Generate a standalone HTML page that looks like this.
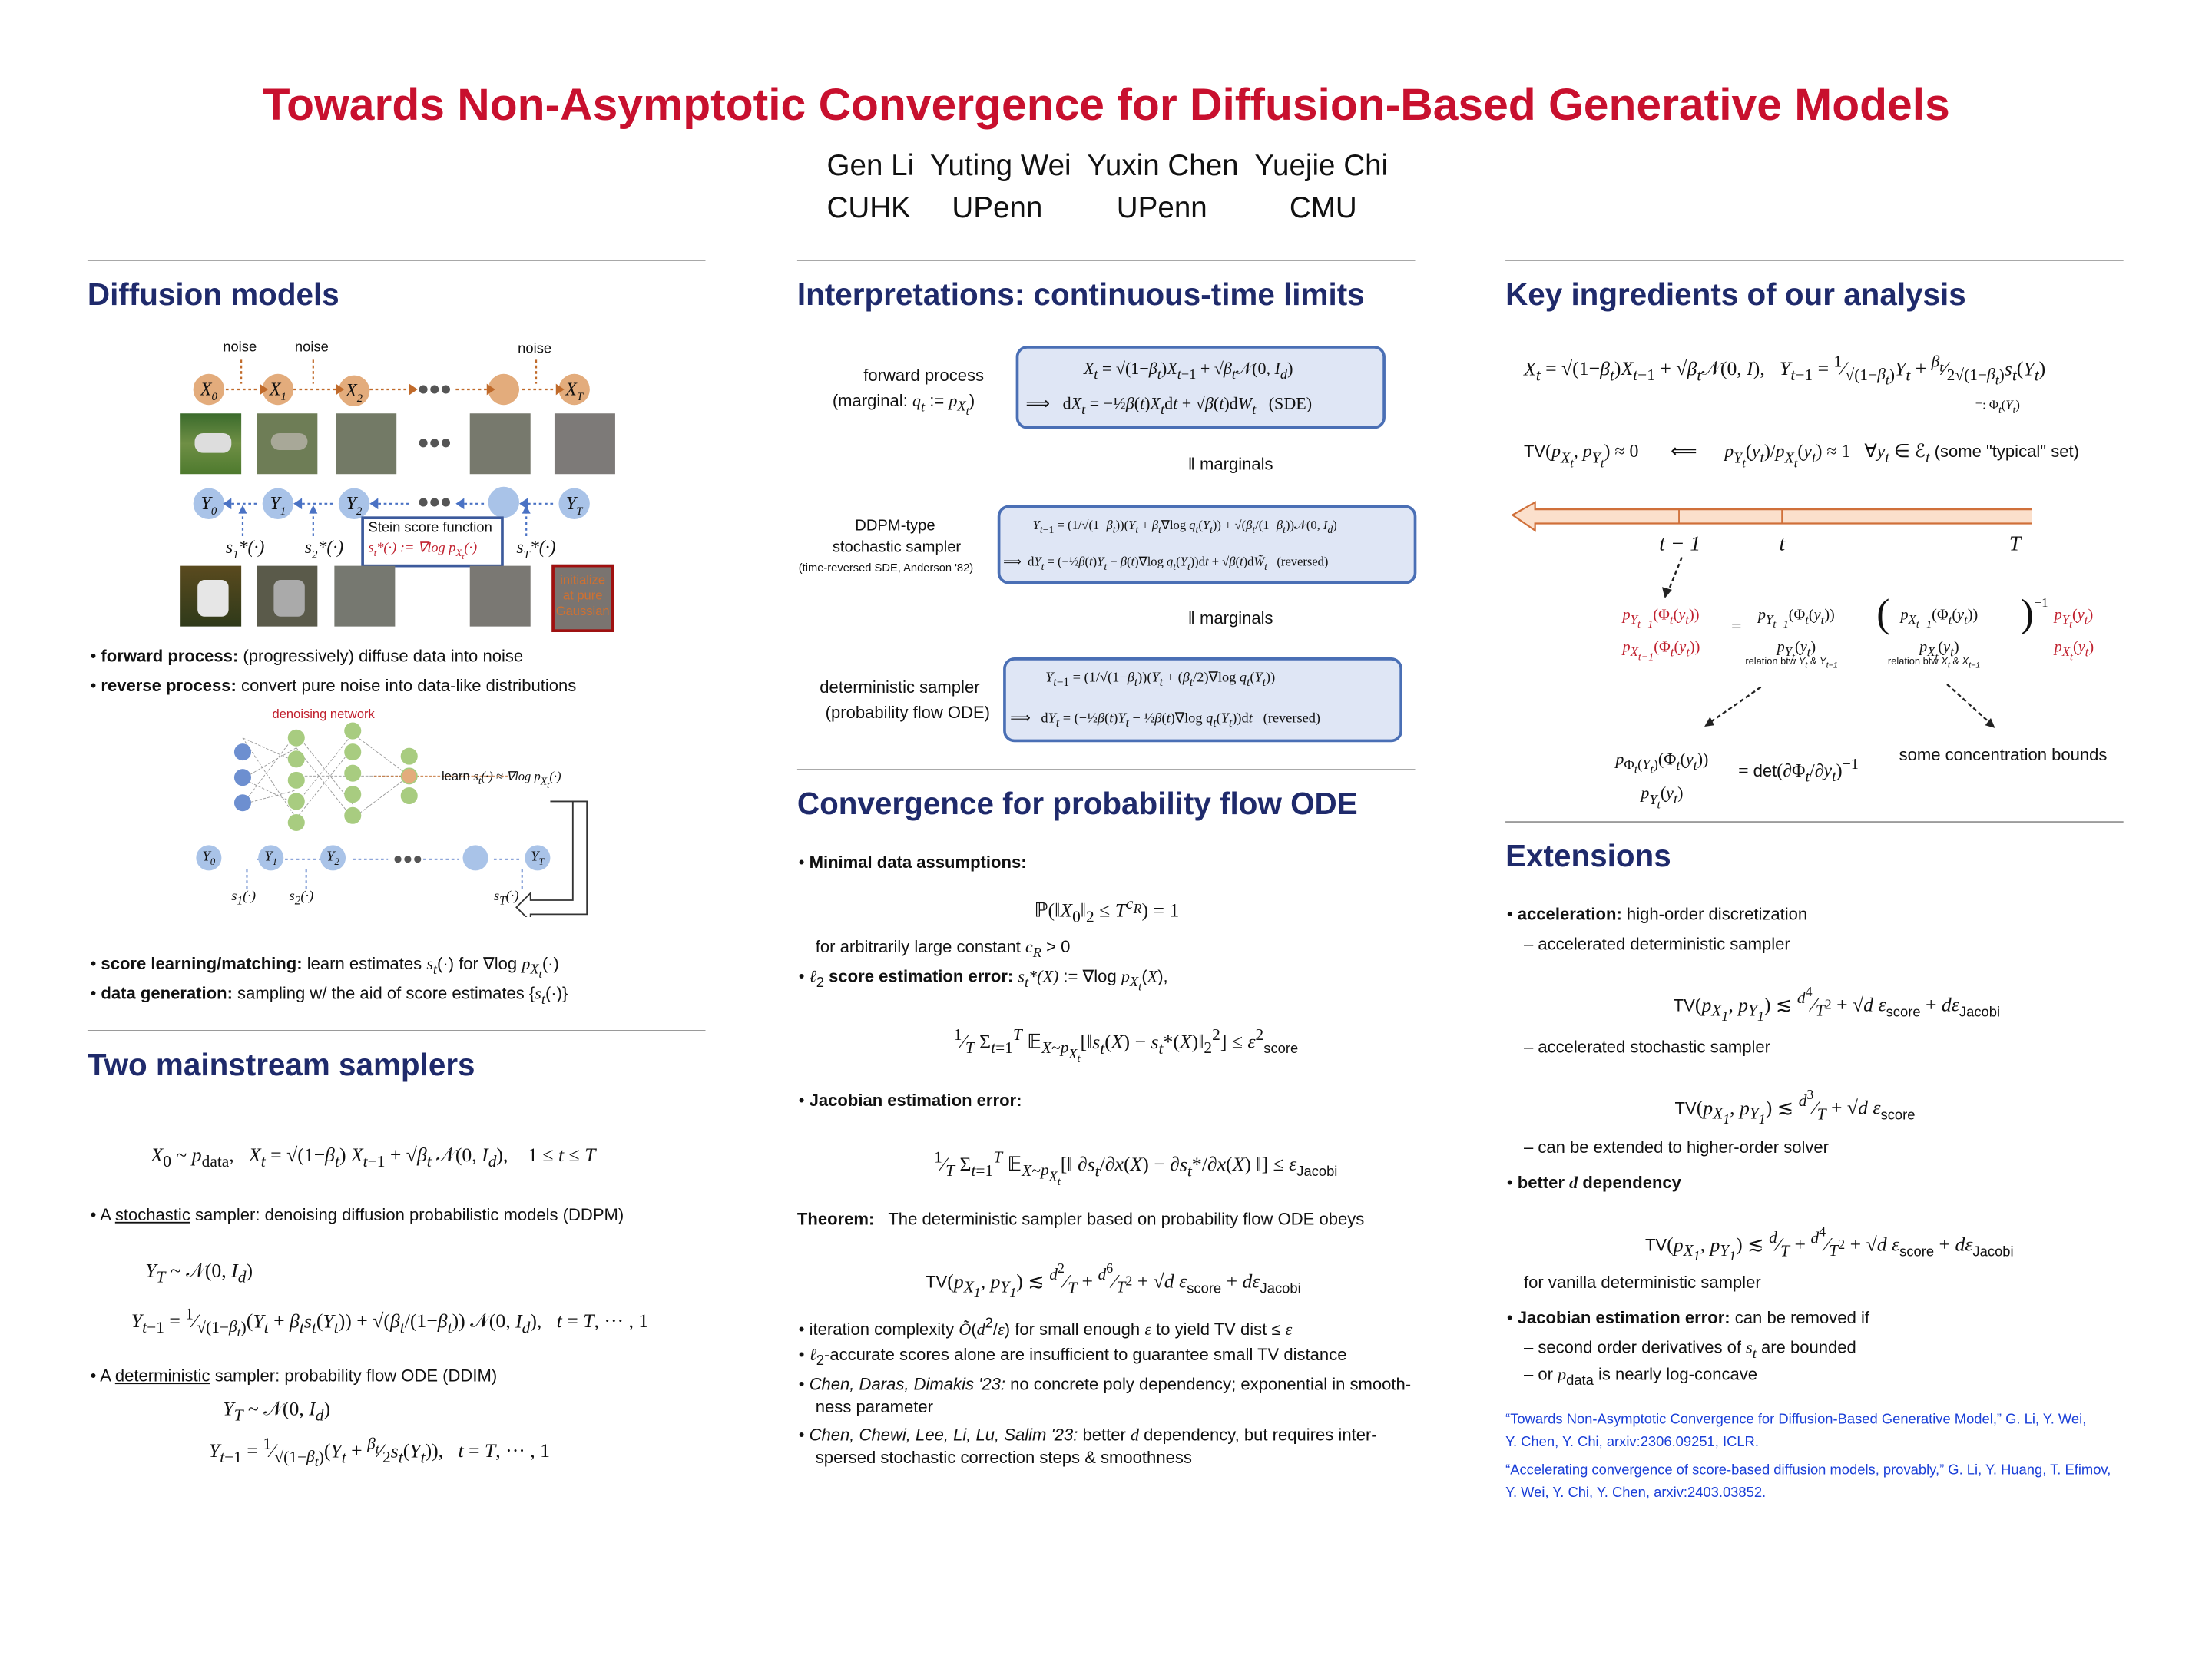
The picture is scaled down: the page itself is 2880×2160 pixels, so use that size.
<!DOCTYPE html><html><head><meta charset="utf-8"><style>
html,body{margin:0;padding:0;background:#fff}
#w{width:2880px;height:2160px;overflow:hidden;position:relative}
#s{position:absolute;left:0;top:0;width:1568px;height:1176px;transform:scale(1.837);transform-origin:0 0;font-family:"Liberation Sans",sans-serif;color:#111}
.a{position:absolute;white-space:nowrap}
.m{font-family:"Liberation Serif",serif}
.i{font-family:"Liberation Serif",serif;font-style:italic}
.h{font-size:22px;font-weight:bold;color:#1f2a6b}
.r{position:absolute;height:1px;background:#999}
.b{font-size:12px}
.box{position:absolute;border:2px solid #4a6fb5;border-radius:8px;background:#dfe6f5}
.on{position:absolute;width:22px;height:22px;border-radius:50%;background:#e3ac7c;font-family:"Liberation Serif",serif;font-style:italic;font-size:13px;text-align:center;line-height:22px}
.bn{position:absolute;width:22px;height:22px;border-radius:50%;background:#a9c3e8;font-family:"Liberation Serif",serif;font-style:italic;font-size:13px;text-align:center;line-height:22px}
.img{position:absolute;width:43px;height:43px}
.red{color:#c0202e}
.blue{color:#1a3fd8}
</style></head><body><div id="w"><div id="s">
<div class="a" style="left:0;width:1568px;text-align:center;top:56px;font-size:32px;font-weight:bold;color:#c8102e">Towards Non-Asymptotic Convergence for Diffusion-Based Generative Models</div>
<div class="a" style="left:586px;top:106px;font-size:21px">Gen Li&nbsp; Yuting Wei&nbsp; Yuxin Chen&nbsp; Yuejie Chi</div>
<div class="a" style="left:586px;top:136px;font-size:21px;word-spacing:0">CUHK&nbsp;&nbsp;&nbsp;&nbsp; UPenn&nbsp;&nbsp;&nbsp;&nbsp;&nbsp;&nbsp;&nbsp;&nbsp; UPenn&nbsp;&nbsp;&nbsp;&nbsp;&nbsp;&nbsp;&nbsp;&nbsp;&nbsp; CMU</div>

<div class="r" style="left:62px;width:438px;top:184px"></div>
<div class="r" style="left:565px;width:438px;top:184px"></div>
<div class="r" style="left:1067px;width:438px;top:184px"></div>

<!-- col1 -->
<div class="a h" style="left:62px;top:196px">Diffusion models</div>
<div class="a" style="left:158px;top:241px;font-size:10px">noise</div>
<div class="a" style="left:209px;top:241px;font-size:10px">noise</div>
<div class="a" style="left:367px;top:242px;font-size:10px">noise</div>
<div class="on" style="left:137px;top:265px">X<sub style="font-size:8px">0</sub></div>
<div class="on" style="left:186px;top:265px">X<sub style="font-size:8px">1</sub></div>
<div class="on" style="left:240px;top:266px">X<sub style="font-size:8px">2</sub></div>
<div class="on" style="left:346px;top:265px"></div>
<div class="on" style="left:396px;top:265px">X<sub style="font-size:8px">T</sub></div>
<svg class="a" style="left:130px;top:250px" width="320" height="120">
<g stroke="#c06a2a" stroke-dasharray="2,2" stroke-width="1.2" fill="none">
<line x1="30" y1="26" x2="54" y2="26"/><line x1="78" y1="26" x2="108" y2="26"/><line x1="132" y1="26" x2="160" y2="26"/><line x1="193" y1="26" x2="215" y2="26"/><line x1="240" y1="26" x2="264" y2="26"/>
<line x1="41" y1="5" x2="41" y2="22"/><line x1="92" y1="5" x2="92" y2="22"/><line x1="250" y1="5" x2="250" y2="22"/></g>
<g fill="#c06a2a"><path d="M54 22l6 4-6 4z"/><path d="M108 22l6 4-6 4z"/><path d="M160 22l6 4-6 4z"/><path d="M215 22l6 4-6 4z"/><path d="M264 22l6 4-6 4z"/></g>
<g fill="#555"><circle cx="170" cy="26" r="3"/><circle cx="178" cy="26" r="3"/><circle cx="186" cy="26" r="3"/><circle cx="170" cy="64" r="3"/><circle cx="178" cy="64" r="3"/><circle cx="186" cy="64" r="3"/><circle cx="170" cy="106" r="3"/><circle cx="178" cy="106" r="3"/><circle cx="186" cy="106" r="3"/></g>
</svg>
<div class="img" style="left:128px;top:293px;background:linear-gradient(#3b6b2c,#6f8f45 50%,#4e7a2e)"><div style="position:absolute;left:10px;top:14px;width:26px;height:14px;background:#ddd;border-radius:6px"></div></div>
<div class="img" style="left:182px;top:293px;background:#6e7d56"><div style="position:absolute;left:10px;top:14px;width:26px;height:12px;background:#a8a898;border-radius:6px"></div></div>
<div class="img" style="left:238px;top:293px;background:#737a66"></div>
<div class="img" style="left:333px;top:293px;background:#77796d"></div>
<div class="img" style="left:393px;top:293px;background:#7d7a78"></div>
<div class="bn" style="left:137px;top:346px">Y<sub style="font-size:8px">0</sub></div>
<div class="bn" style="left:186px;top:346px">Y<sub style="font-size:8px">1</sub></div>
<div class="bn" style="left:240px;top:346px">Y<sub style="font-size:8px">2</sub></div>
<div class="bn" style="left:346px;top:345px"></div>
<div class="bn" style="left:396px;top:346px">Y<sub style="font-size:8px">T</sub></div>
<svg class="a" style="left:130px;top:340px" width="320" height="60">
<g stroke="#4a72c4" stroke-dasharray="2,2" stroke-width="1.2"><line x1="30" y1="17" x2="54" y2="17"/><line x1="80" y1="17" x2="108" y2="17"/><line x1="134" y1="17" x2="160" y2="17"/><line x1="195" y1="17" x2="215" y2="17"/><line x1="240" y1="17" x2="264" y2="17"/>
<line x1="42" y1="22" x2="42" y2="40"/><line x1="92" y1="22" x2="92" y2="40"/><line x1="243" y1="22" x2="243" y2="40"/></g>
<g fill="#4a72c4"><path d="M28 17l6-4v8z"/><path d="M78 17l6-4v8z"/><path d="M132 17l6-4v8z"/><path d="M193 17l6-4v8z"/><path d="M238 17l6-4v8z"/><path d="M42 18l-3 6h6z"/><path d="M92 18l-3 6h6z"/><path d="M243 18l-3 6h6z"/></g></svg>
<div class="a i" style="left:160px;top:380px;font-size:13px">s<sub style="font-size:8px">1</sub>*(·)</div>
<div class="a i" style="left:216px;top:380px;font-size:13px">s<sub style="font-size:8px">2</sub>*(·)</div>
<div class="a i" style="left:366px;top:380px;font-size:13px">s<sub style="font-size:8px">T</sub>*(·)</div>
<div class="a" style="left:256px;top:366px;width:94px;height:32px;border:2px solid #3c5a9c;background:#fff;font-size:10px;padding-left:3px;line-height:14px">Stein score function<br><span class="red i">s<sub style="font-size:7px">t</sub>*(·) := ∇log p<sub style="font-size:7px">X<sub>t</sub></sub>(·)</span></div>
<div class="img" style="left:128px;top:401px;background:linear-gradient(#5a4a1e,#2f3a1a)"><div style="position:absolute;left:12px;top:10px;width:22px;height:26px;background:#e6e6e6;border-radius:5px"></div></div>
<div class="img" style="left:182px;top:401px;background:#5a5a4a"><div style="position:absolute;left:12px;top:10px;width:22px;height:26px;background:#aaa;border-radius:5px"></div></div>
<div class="img" style="left:237px;top:401px;background:#767870"></div>
<div class="img" style="left:333px;top:401px;background:#7a7873"></div>
<div class="a" style="left:391px;top:400px;width:40px;height:40px;border:2px solid #a01010;background:#7a7470;color:#d07030;font-size:9px;text-align:center;line-height:11px;padding-top:4px;box-sizing:content-box">initialize<br>at pure<br>Gaussian</div>
<div class="a b" style="left:64px;top:458px">• <b>forward process:</b> (progressively) diffuse data into noise</div>
<div class="a b" style="left:64px;top:479px">• <b>reverse process:</b> convert pure noise into data-like distributions</div>
<div class="a red" style="left:193px;top:501px;font-size:9px">denoising network</div>
<svg class="a" style="left:160px;top:510px" width="270" height="140">
<g stroke="#999" stroke-width=".5" stroke-dasharray="2,1">
<line x1="12" y1="13" x2="50" y2="30"/><line x1="12" y1="42" x2="50" y2="60"/><line x1="12" y1="60" x2="50" y2="10"/><line x1="12" y1="13" x2="50" y2="70"/><line x1="12" y1="42" x2="50" y2="20"/><line x1="12" y1="60" x2="50" y2="50"/>
<line x1="50" y1="10" x2="90" y2="60"/><line x1="50" y1="70" x2="90" y2="20"/><line x1="50" y1="40" x2="90" y2="40"/><line x1="50" y1="20" x2="90" y2="70"/><line x1="50" y1="60" x2="90" y2="10"/>
<line x1="90" y1="10" x2="130" y2="40"/><line x1="90" y1="70" x2="130" y2="40"/><line x1="90" y1="40" x2="130" y2="40"/><line x1="105" y1="40" x2="200" y2="40" stroke="#c06a2a"/>
</g>
<g fill="#6d8fd0"><circle cx="12" cy="23" r="6"/><circle cx="12" cy="41" r="6"/><circle cx="12" cy="59" r="6"/></g>
<g fill="#a8cc80"><circle cx="50" cy="13" r="6"/><circle cx="50" cy="28" r="6"/><circle cx="50" cy="43" r="6"/><circle cx="50" cy="58" r="6"/><circle cx="50" cy="73" r="6"/>
<circle cx="90" cy="8" r="6"/><circle cx="90" cy="23" r="6"/><circle cx="90" cy="38" r="6"/><circle cx="90" cy="53" r="6"/><circle cx="90" cy="68" r="6"/>
<circle cx="130" cy="26" r="6"/><circle cx="130" cy="40" r="6"/><circle cx="130" cy="54" r="6"/></g>
<circle cx="130" cy="40" r="5" fill="#e3ac7c"/>
<g stroke="#4a72c4" stroke-dasharray="2,2"><line x1="22" y1="99" x2="24" y2="99"/><line x1="42" y1="99" x2="70" y2="99"/><line x1="90" y1="99" x2="115" y2="99"/><line x1="140" y1="99" x2="165" y2="99"/><line x1="190" y1="99" x2="210" y2="99"/>
<line x1="15" y1="106" x2="15" y2="120"/><line x1="57" y1="106" x2="57" y2="120"/><line x1="210" y1="106" x2="210" y2="120"/></g>
<g fill="#555"><circle cx="122" cy="99" r="2.5"/><circle cx="129" cy="99" r="2.5"/><circle cx="136" cy="99" r="2.5"/></g>
<path d="M230 58h26v80h-40v5l-10-10 10-10v5h30v-70z" fill="#fff" stroke="#333"/>
</svg>
<div class="a" style="left:313px;top:545px;font-size:9px">learn <span class="i">s<sub>t</sub>(·) ≈ ∇log p<sub>X<sub>t</sub></sub>(·)</span></div>
<div class="bn" style="left:139px;top:599px;width:18px;height:18px;line-height:18px;font-size:10px">Y<sub style="font-size:7px">0</sub></div>
<div class="bn" style="left:183px;top:599px;width:18px;height:18px;line-height:18px;font-size:10px">Y<sub style="font-size:7px">1</sub></div>
<div class="bn" style="left:227px;top:599px;width:18px;height:18px;line-height:18px;font-size:10px">Y<sub style="font-size:7px">2</sub></div>
<div class="bn" style="left:328px;top:599px;width:18px;height:18px"></div>
<div class="bn" style="left:372px;top:599px;width:18px;height:18px;line-height:18px;font-size:10px">Y<sub style="font-size:7px">T</sub></div>
<div class="a i" style="left:164px;top:630px;font-size:10px">s<sub>1</sub>(·)</div>
<div class="a i" style="left:205px;top:630px;font-size:10px">s<sub>2</sub>(·)</div>
<div class="a i" style="left:350px;top:630px;font-size:10px">s<sub>T</sub>(·)</div>
<div class="a b" style="left:64px;top:676px">• <b>score learning/matching:</b> learn estimates <span class="i">s<sub>t</sub></span>(·) for ∇log <span class="i">p<sub>X<sub>t</sub></sub></span>(·)</div>
<div class="a b" style="left:64px;top:697px">• <b>data generation:</b> sampling w/ the aid of score estimates {<span class="i">s<sub>t</sub></span>(·)}</div>
<div class="r" style="left:62px;width:438px;top:730px"></div>
<div class="a h" style="left:62px;top:742px">Two mainstream samplers</div>
<div class="a m" style="left:107px;top:812px;font-size:14px"><i>X</i><sub>0</sub> ~ <i>p</i><sub>data</sub>,&nbsp;&nbsp; <i>X<sub>t</sub></i> = √(1−<i>β<sub>t</sub></i>) <i>X</i><sub><i>t</i>−1</sub> + √<i>β<sub>t</sub></i> 𝒩(0, <i>I<sub>d</sub></i>),&nbsp;&nbsp;&nbsp; 1 ≤ <i>t</i> ≤ <i>T</i></div>
<div class="a b" style="left:64px;top:854px">• A <u>stochastic</u> sampler: denoising diffusion probabilistic models (DDPM)</div>
<div class="a m" style="left:103px;top:894px;font-size:14px"><i>Y<sub>T</sub></i> ~ 𝒩(0, <i>I<sub>d</sub></i>)</div>
<div class="a m" style="left:93px;top:925px;font-size:14px"><i>Y</i><sub><i>t</i>−1</sub> = <sup>1</sup>⁄<sub>√(1−<i>β<sub>t</sub></i>)</sub>(<i>Y<sub>t</sub></i> + <i>β<sub>t</sub>s<sub>t</sub></i>(<i>Y<sub>t</sub></i>)) + √(<i>β<sub>t</sub></i>/(1−<i>β<sub>t</sub></i>)) 𝒩(0, <i>I<sub>d</sub></i>),&nbsp;&nbsp; <i>t</i> = <i>T</i>, ··· , 1</div>
<div class="a b" style="left:64px;top:968px">• A <u>deterministic</u> sampler: probability flow ODE (DDIM)</div>
<div class="a m" style="left:158px;top:992px;font-size:14px"><i>Y<sub>T</sub></i> ~ 𝒩(0, <i>I<sub>d</sub></i>)</div>
<div class="a m" style="left:148px;top:1017px;font-size:14px"><i>Y</i><sub><i>t</i>−1</sub> = <sup>1</sup>⁄<sub>√(1−<i>β<sub>t</sub></i>)</sub>(<i>Y<sub>t</sub></i> + <sup><i>β<sub>t</sub></i></sup>⁄<sub>2</sub><i>s<sub>t</sub></i>(<i>Y<sub>t</sub></i>)),&nbsp;&nbsp; <i>t</i> = <i>T</i>, ··· , 1</div>

<!-- col2 -->
<div class="a h" style="left:565px;top:196px">Interpretations: continuous-time limits</div>
<div class="a" style="left:612px;top:259px;font-size:12px">forward process</div>
<div class="a" style="left:590px;top:277px;font-size:12px">(marginal: <i class="m">q<sub>t</sub></i> := <i class="m">p<sub>X<sub>t</sub></sub></i>)</div>
<div class="box" style="left:720px;top:245px;width:258px;height:55px"></div>
<div class="a m" style="left:768px;top:254px;font-size:12px"><i>X<sub>t</sub></i> = √(1−<i>β<sub>t</sub></i>)<i>X</i><sub><i>t</i>−1</sub> + √<i>β<sub>t</sub></i>𝒩(0, <i>I<sub>d</sub></i>)</div>
<div class="a m" style="left:727px;top:279px;font-size:12px">⟹&nbsp;&nbsp; d<i>X<sub>t</sub></i> = −½<i>β</i>(<i>t</i>)<i>X<sub>t</sub></i>d<i>t</i> + √<i>β</i>(<i>t</i>)d<i>W<sub>t</sub></i>&nbsp;&nbsp; (SDE)</div>
<div class="a" style="left:842px;top:322px;font-size:12px">‖ marginals</div>
<div class="a" style="left:606px;top:367px;font-size:11px">DDPM-type</div>
<div class="a" style="left:590px;top:382px;font-size:11px">stochastic sampler</div>
<div class="a" style="left:566px;top:398px;font-size:8px">(time-reversed SDE, Anderson '82)</div>
<div class="box" style="left:707px;top:358px;width:293px;height:52px"></div>
<div class="a m" style="left:732px;top:367px;font-size:9px"><i>Y</i><sub><i>t</i>−1</sub> = (1/√(1−<i>β<sub>t</sub></i>))(<i>Y<sub>t</sub></i> + <i>β<sub>t</sub></i>∇log <i>q<sub>t</sub></i>(<i>Y<sub>t</sub></i>)) + √(<i>β<sub>t</sub></i>/(1−<i>β<sub>t</sub></i>))𝒩(0, <i>I<sub>d</sub></i>)</div>
<div class="a m" style="left:711px;top:393px;font-size:9px">⟹&nbsp; d<i>Y<sub>t</sub></i> = (−½<i>β</i>(<i>t</i>)<i>Y<sub>t</sub></i> − <i>β</i>(<i>t</i>)∇log <i>q<sub>t</sub></i>(<i>Y<sub>t</sub></i>))d<i>t</i> + √<i>β</i>(<i>t</i>)d<i>W̃<sub>t</sub></i>&nbsp;&nbsp; (reversed)</div>
<div class="a" style="left:842px;top:431px;font-size:12px">‖ marginals</div>
<div class="a" style="left:581px;top:480px;font-size:12px">deterministic sampler</div>
<div class="a" style="left:585px;top:498px;font-size:12px">(probability flow ODE)</div>
<div class="box" style="left:711px;top:466px;width:279px;height:56px"></div>
<div class="a m" style="left:741px;top:475px;font-size:10px"><i>Y</i><sub><i>t</i>−1</sub> = (1/√(1−<i>β<sub>t</sub></i>))(<i>Y<sub>t</sub></i> + (<i>β<sub>t</sub></i>/2)∇log <i>q<sub>t</sub></i>(<i>Y<sub>t</sub></i>))</div>
<div class="a m" style="left:716px;top:504px;font-size:10px">⟹&nbsp;&nbsp; d<i>Y<sub>t</sub></i> = (−½<i>β</i>(<i>t</i>)<i>Y<sub>t</sub></i> − ½<i>β</i>(<i>t</i>)∇log <i>q<sub>t</sub></i>(<i>Y<sub>t</sub></i>))d<i>t</i>&nbsp;&nbsp; (reversed)</div>
<div class="r" style="left:565px;width:438px;top:545px"></div>
<div class="a h" style="left:565px;top:557px">Convergence for probability flow ODE</div>
<div class="a b" style="left:566px;top:604px">• <b>Minimal data assumptions:</b></div>
<div class="a m" style="left:733px;top:634px;font-size:14px">ℙ(‖<i>X</i><sub>0</sub>‖<sub>2</sub> ≤ <i>T</i><sup><i>c<sub>R</sub></i></sup>) = 1</div>
<div class="a b" style="left:578px;top:664px">for arbitrarily large constant <i class="m">c<sub>R</sub></i> &gt; 0</div>
<div class="a b" style="left:566px;top:685px">• <i class="m">ℓ</i><sub>2</sub> <b>score estimation error:</b> <i class="m">s<sub>t</sub>*(X)</i> := ∇log <i class="m">p<sub>X<sub>t</sub></sub></i>(<i class="m">X</i>),</div>
<div class="a m" style="left:676px;top:727px;font-size:14px"><sup>1</sup>⁄<sub><i>T</i></sub> Σ<sub><i>t</i>=1</sub><sup><i>T</i></sup> 𝔼<sub><i>X</i>~<i>p<sub>X<sub>t</sub></sub></i></sub>[‖<i>s<sub>t</sub></i>(<i>X</i>) − <i>s<sub>t</sub></i>*(<i>X</i>)‖<sub>2</sub><sup>2</sup>] ≤ <i>ε</i><sup>2</sup><sub style="font-family:'Liberation Sans';font-size:10px">score</sub></div>
<div class="a b" style="left:566px;top:773px">• <b>Jacobian estimation error:</b></div>
<div class="a m" style="left:662px;top:814px;font-size:14px"><sup>1</sup>⁄<sub><i>T</i></sub> Σ<sub><i>t</i>=1</sub><sup><i>T</i></sup> 𝔼<sub><i>X</i>~<i>p<sub>X<sub>t</sub></sub></i></sub>[‖ ∂<i>s<sub>t</sub></i>/∂<i>x</i>(<i>X</i>) − ∂<i>s<sub>t</sub></i>*/∂<i>x</i>(<i>X</i>) ‖] ≤ <i>ε</i><sub style="font-family:'Liberation Sans';font-size:10px">Jacobi</sub></div>
<div class="a b" style="left:565px;top:857px"><b>Theorem:</b>&nbsp;&nbsp; The deterministic sampler based on probability flow ODE obeys</div>
<div class="a m" style="left:656px;top:894px;font-size:14px"><span style="font-family:'Liberation Sans';font-size:12px">TV</span>(<i>p<sub>X<sub>1</sub></sub></i>, <i>p<sub>Y<sub>1</sub></sub></i>) ≲ <sup><i>d</i><sup>2</sup></sup>⁄<sub><i>T</i></sub> + <sup><i>d</i><sup>6</sup></sup>⁄<sub><i>T</i><sup>2</sup></sub> + √<i>d</i> <i>ε</i><sub style="font-family:'Liberation Sans';font-size:10px">score</sub> + <i>dε</i><sub style="font-family:'Liberation Sans';font-size:10px">Jacobi</sub></div>
<div class="a b" style="left:566px;top:933px">• iteration complexity <i class="m">Õ</i>(<i class="m">d</i><sup>2</sup>/<i class="m">ε</i>) for small enough <i class="m">ε</i> to yield TV dist ≤ <i class="m">ε</i></div>
<div class="a b" style="left:566px;top:953px">• <i class="m">ℓ</i><sub>2</sub>-accurate scores alone are insufficient to guarantee small TV distance</div>
<div class="a b" style="left:566px;top:974px">• <i>Chen, Daras, Dimakis '23:</i> no concrete poly dependency; exponential in smooth-</div>
<div class="a b" style="left:578px;top:990px">ness parameter</div>
<div class="a b" style="left:566px;top:1010px">• <i>Chen, Chewi, Lee, Li, Lu, Salim '23:</i> better <i class="m">d</i> dependency, but requires inter-</div>
<div class="a b" style="left:578px;top:1026px">spersed stochastic correction steps &amp; smoothness</div>

<!-- col3 -->
<div class="a h" style="left:1067px;top:196px">Key ingredients of our analysis</div>
<div class="a m" style="left:1080px;top:250px;font-size:14px"><i>X<sub>t</sub></i> = √(1−<i>β<sub>t</sub></i>)<i>X</i><sub><i>t</i>−1</sub> + √<i>β<sub>t</sub></i>𝒩(0, <i>I</i>),&nbsp;&nbsp; <i>Y</i><sub><i>t</i>−1</sub> = <sup>1</sup>⁄<sub>√(1−<i>β<sub>t</sub></i>)</sub><i>Y<sub>t</sub></i> + <sup><i>β<sub>t</sub></i></sup>⁄<sub>2√(1−<i>β<sub>t</sub></i>)</sub><i>s<sub>t</sub></i>(<i>Y<sub>t</sub></i>)</div>
<div class="a m" style="left:1400px;top:282px;font-size:9px">=: Φ<sub><i>t</i></sub>(<i>Y<sub>t</sub></i>)</div>
<div class="a m" style="left:1080px;top:312px;font-size:13px"><span style="font-family:'Liberation Sans';font-size:12px">TV</span>(<i>p<sub>X<sub>t</sub></sub></i>, <i>p<sub>Y<sub>t</sub></sub></i>) ≈ 0&nbsp;&nbsp;&nbsp;&nbsp;&nbsp;&nbsp; ⟸&nbsp;&nbsp;&nbsp;&nbsp;&nbsp; <i>p<sub>Y<sub>t</sub></sub></i>(<i>y<sub>t</sub></i>)/<i>p<sub>X<sub>t</sub></sub></i>(<i>y<sub>t</sub></i>) ≈ 1&nbsp;&nbsp; ∀<i>y<sub>t</sub></i> ∈ ℰ<sub><i>t</i></sub> <span style="font-family:'Liberation Sans';font-size:12px">(some "typical" set)</span></div>
<svg class="a" style="left:1070px;top:355px" width="370" height="22"><path d="M2 10L18 1v5h417v10H18v5z" fill="#fbe0cc" stroke="#d0703a" stroke-width="1.2"/><line x1="120" y1="6" x2="120" y2="16" stroke="#d0703a"/><line x1="193" y1="6" x2="193" y2="16" stroke="#d0703a"/></svg>
<div class="a i" style="left:1176px;top:378px;font-size:15px">t − 1</div>
<div class="a i" style="left:1261px;top:378px;font-size:15px">t</div>
<div class="a i" style="left:1424px;top:378px;font-size:15px">T</div>
<div class="a m red" style="left:1150px;top:428px;font-size:11px;line-height:16px"><i>p<sub>Y<sub>t−1</sub></sub></i>(Φ<sub><i>t</i></sub>(<i>y<sub>t</sub></i>))<br><i>p<sub>X<sub>t−1</sub></sub></i>(Φ<sub><i>t</i></sub>(<i>y<sub>t</sub></i>))</div>
<div class="a m" style="left:1227px;top:436px;font-size:13px">=</div>
<div class="a m" style="left:1246px;top:428px;font-size:11px;line-height:16px;text-align:center"><i>p<sub>Y<sub>t−1</sub></sub></i>(Φ<sub><i>t</i></sub>(<i>y<sub>t</sub></i>))<br><i>p<sub>Y<sub>t</sub></sub></i>(<i>y<sub>t</sub></i>)</div>
<div class="a m" style="left:1330px;top:420px;font-size:28px">(</div>
<div class="a m" style="left:1347px;top:428px;font-size:11px;line-height:16px;text-align:center"><i>p<sub>X<sub>t−1</sub></sub></i>(Φ<sub><i>t</i></sub>(<i>y<sub>t</sub></i>))<br><i>p<sub>X<sub>t</sub></sub></i>(<i>y<sub>t</sub></i>)</div>
<div class="a m" style="left:1432px;top:420px;font-size:28px">)</div>
<div class="a m" style="left:1442px;top:422px;font-size:9px">−1</div>
<div class="a m red" style="left:1456px;top:428px;font-size:11px;line-height:16px"><i>p<sub>Y<sub>t</sub></sub></i>(<i>y<sub>t</sub></i>)<br><i>p<sub>X<sub>t</sub></sub></i>(<i>y<sub>t</sub></i>)</div>
<div class="a" style="left:1237px;top:466px;font-size:7px">relation btw <i>Y<sub>t</sub></i> &amp; <i>Y<sub>t−1</sub></i></div>
<div class="a" style="left:1338px;top:466px;font-size:7px">relation btw <i>X<sub>t</sub></i> &amp; <i>X<sub>t−1</sub></i></div>
<svg class="a" style="left:1140px;top:390px" width="300" height="130"><g stroke="#222" stroke-dasharray="3,2" stroke-width="1.3"><line x1="52" y1="5" x2="42" y2="30"/><line x1="108" y1="97" x2="72" y2="122"/><line x1="240" y1="95" x2="270" y2="122"/></g><g fill="#222"><path d="M40 34l-2-8 7 2z"/><path d="M68 125l4-7 3 6z"/><path d="M274 126l-7-2 4-5z"/></g></svg>
<div class="a m" style="left:1145px;top:530px;font-size:12px;line-height:16px;text-align:center"><i>p</i><sub>Φ<sub><i>t</i></sub>(<i>Y<sub>t</sub></i>)</sub>(Φ<sub><i>t</i></sub>(<i>y<sub>t</sub></i>))<br><i>p<sub>Y<sub>t</sub></sub></i>(<i>y<sub>t</sub></i>)</div>
<div class="a m" style="left:1232px;top:536px;font-size:13px">= <span style="font-family:'Liberation Sans';font-size:12px">det</span>(∂Φ<sub><i>t</i></sub>/∂<i>y<sub>t</sub></i>)<sup>−1</sup></div>
<div class="a b" style="left:1346px;top:528px">some concentration bounds</div>
<div class="r" style="left:1067px;width:438px;top:582px"></div>
<div class="a h" style="left:1067px;top:594px">Extensions</div>
<div class="a b" style="left:1068px;top:641px">• <b>acceleration:</b> high-order discretization</div>
<div class="a b" style="left:1080px;top:662px">– accelerated deterministic sampler</div>
<div class="a m" style="left:1186px;top:698px;font-size:14px"><span style="font-family:'Liberation Sans';font-size:12px">TV</span>(<i>p<sub>X<sub>1</sub></sub></i>, <i>p<sub>Y<sub>1</sub></sub></i>) ≲ <sup><i>d</i><sup>4</sup></sup>⁄<sub><i>T</i><sup>2</sup></sub> + √<i>d</i> <i>ε</i><sub style="font-family:'Liberation Sans';font-size:10px">score</sub> + <i>dε</i><sub style="font-family:'Liberation Sans';font-size:10px">Jacobi</sub></div>
<div class="a b" style="left:1080px;top:735px">– accelerated stochastic sampler</div>
<div class="a m" style="left:1187px;top:771px;font-size:14px"><span style="font-family:'Liberation Sans';font-size:12px">TV</span>(<i>p<sub>X<sub>1</sub></sub></i>, <i>p<sub>Y<sub>1</sub></sub></i>) ≲ <sup><i>d</i><sup>3</sup></sup>⁄<sub><i>T</i></sub> + √<i>d</i> <i>ε</i><sub style="font-family:'Liberation Sans';font-size:10px">score</sub></div>
<div class="a b" style="left:1080px;top:806px">– can be extended to higher-order solver</div>
<div class="a b" style="left:1068px;top:831px">• <b>better <i class="m">d</i> dependency</b></div>
<div class="a m" style="left:1166px;top:868px;font-size:14px"><span style="font-family:'Liberation Sans';font-size:12px">TV</span>(<i>p<sub>X<sub>1</sub></sub></i>, <i>p<sub>Y<sub>1</sub></sub></i>) ≲ <sup><i>d</i></sup>⁄<sub><i>T</i></sub> + <sup><i>d</i><sup>4</sup></sup>⁄<sub><i>T</i><sup>2</sup></sub> + √<i>d</i> <i>ε</i><sub style="font-family:'Liberation Sans';font-size:10px">score</sub> + <i>dε</i><sub style="font-family:'Liberation Sans';font-size:10px">Jacobi</sub></div>
<div class="a b" style="left:1080px;top:902px">for vanilla deterministic sampler</div>
<div class="a b" style="left:1068px;top:927px">• <b>Jacobian estimation error:</b> can be removed if</div>
<div class="a b" style="left:1080px;top:948px">– second order derivatives of <i class="m">s<sub>t</sub></i> are bounded</div>
<div class="a b" style="left:1080px;top:967px">– or <i class="m">p</i><sub>data</sub> is nearly log-concave</div>
<div class="a blue" style="left:1067px;top:999px;font-size:10px;line-height:16px">“Towards Non-Asymptotic Convergence for Diffusion-Based Generative Model,” G. Li, Y. Wei,<br>Y. Chen, Y. Chi, arxiv:2306.09251, ICLR.</div>
<div class="a blue" style="left:1067px;top:1035px;font-size:10px;line-height:16px">“Accelerating convergence of score-based diffusion models, provably,” G. Li, Y. Huang, T. Efimov,<br>Y. Wei, Y. Chi, Y. Chen, arxiv:2403.03852.</div>
</div></div></body></html>
